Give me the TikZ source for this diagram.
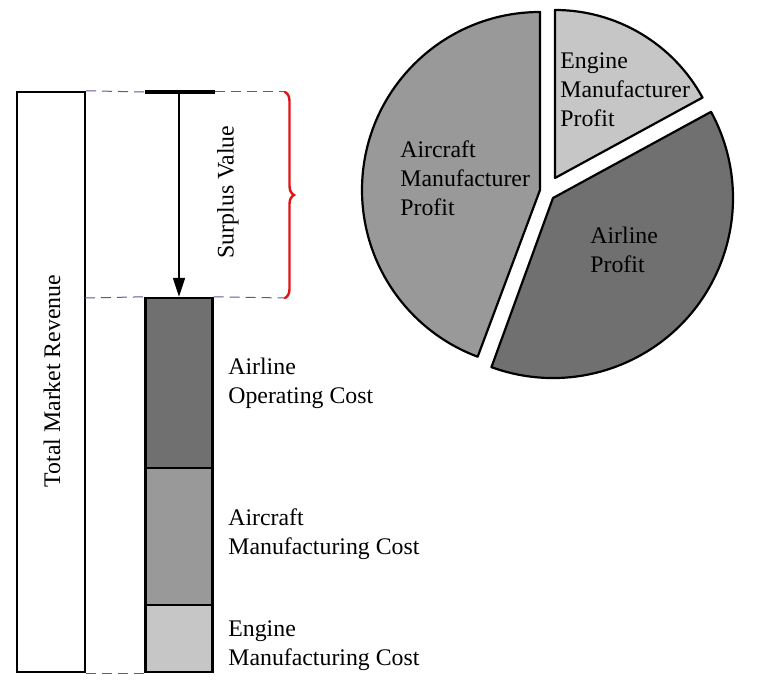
\documentclass[tikz,border=0pt]{standalone}
\usepackage{fontspec}
\setmainfont{Liberation Serif}
\usetikzlibrary{arrows.meta,decorations.pathreplacing}
\definecolor{gdark}{RGB}{112,112,112}
\definecolor{gmid}{RGB}{153,153,153}
\definecolor{glight}{RGB}{198,198,198}
\definecolor{dashblue}{RGB}{90,90,150}
\definecolor{bracered}{RGB}{225,20,20}
\tikzset{
  blockbox/.style={draw=black, line width=1.2pt, inner sep=0pt, minimum width=33.5pt},
  lbl/.style={inner sep=0pt, anchor=west, align=left, font=\fontsize{11.9}{14.4}\selectfont},
  guide/.style={draw=dashblue, line width=0.5pt, dash pattern=on 5pt off 3pt},
  slice/.style={draw=black, line width=1.1pt, line join=round},
}
\begin{document}
\begin{tikzpicture}[x=0.5pt,y=-0.5pt]
\useasboundingbox (0,0) rectangle (758,684);
% total revenue column
\node[blockbox, minimum width=34pt, minimum height=290pt, fill=white] (total) at (51,382) {};
\node[lbl, anchor=center, rotate=90] (totallbl) at (52,381) {Total Market Revenue};
% cost stack
\node[blockbox, fill=gdark, minimum height=85pt] (dark) at (179,383) {};
\node[blockbox, fill=gmid, minimum height=68.5pt] (mid) at (179,536.5) {};
\node[blockbox, fill=glight, minimum height=33.5pt] (light) at (179,638.5) {};
% guides
\coordinate (barL) at (145,92);
\coordinate (barR) at (215,92);
\coordinate (barM) at (179,92);
\coordinate (braceT) at (285,92);
\coordinate (braceB) at (285,298);
\coordinate (totalMid) at (85,298);
\draw[guide] (total.north east) -- (barL);
\draw[guide] (barR) -- (braceT);
\draw[guide] (totalMid) -- (dark.north west);
\draw[guide] (dark.north east) -- (braceB);
\draw[guide] (total.south east) -- (light.south west);
% bar and arrow
\draw[line width=2.4pt] (barL) -- (barR);
\draw[line width=0.8pt, -{Triangle[length=9.5pt,width=6pt]}] (barM) -- (dark.north);
% brace
\draw[bracered, line width=1.2pt, line cap=round, decorate, decoration={brace, amplitude=4.5pt}] (braceT) -- (braceB);
\node[lbl, anchor=center, rotate=90] (surplus) at (228,192) {Surplus Value};
% cost labels
\node[lbl] (opcost) at (228,383) {Airline\\Operating Cost};
\node[lbl] (accost) at (228,534) {Aircraft\\Manufacturing Cost};
\node[lbl] (engcost) at (228,646) {Engine\\Manufacturing Cost};
% pie chart
\coordinate (apexA) at (540,190);
\coordinate (apexE) at (555,178);
\coordinate (apexL) at (553,198);
\draw[slice, fill=gmid] (apexA) -- ++(90:89pt) arc[start angle=90, end angle=249.5, radius=89pt] -- cycle;
\draw[slice, fill=glight] (apexE) -- ++(28.6:84pt) arc[start angle=28.6, end angle=90, radius=84pt] -- cycle;
\draw[slice, fill=gdark] (apexL) -- ++(-110:90pt) arc[start angle=-110, end angle=28.6, radius=90pt] -- cycle;
\node[lbl] (engprofit) at (560,90) {Engine\\Manufacturer\\Profit};
\node[lbl] (acprofit) at (400,178) {Aircraft\\Manufacturer\\Profit};
\node[lbl] (alprofit) at (590,250) {Airline\\Profit};
\end{tikzpicture}
\end{document}
